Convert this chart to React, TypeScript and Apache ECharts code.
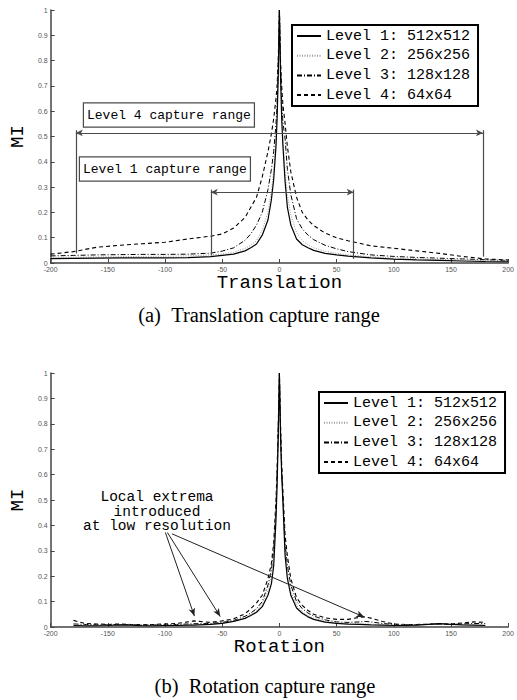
import React, { useEffect, useRef } from 'react';
import * as echarts from 'echarts';

const levelNames = ['Level 1: 512x512', 'Level 2: 256x256', 'Level 3: 128x128', 'Level 4: 64x64'];

// Translation (a)
const transX = [-200, -180, -160, -140, -120, -100, -80, -60, -50, -40, -30, -25, -20, -15, -10, -7, -5, -3, -2, -1,
  0, 1, 2, 3, 5, 7, 10, 15, 20, 25, 30, 40, 50, 60, 80, 100, 120, 140, 160, 180, 200];
const transL1 = [0.017, 0.018, 0.019, 0.02, 0.02, 0.02, 0.021, 0.025, 0.03, 0.035, 0.048, 0.06, 0.075, 0.11, 0.17, 0.25, 0.33, 0.46, 0.57, 0.74,
  1, 0.74, 0.57, 0.47, 0.32, 0.22, 0.15, 0.095, 0.072, 0.06, 0.05, 0.038, 0.032, 0.027, 0.02, 0.015, 0.012, 0.01, 0.008, 0.006, 0.005];
const transL2 = [0.022, 0.023, 0.024, 0.025, 0.026, 0.027, 0.028, 0.032, 0.036, 0.042, 0.058, 0.07, 0.088, 0.13, 0.2, 0.28, 0.37, 0.5, 0.6, 0.77,
  1, 0.77, 0.6, 0.5, 0.36, 0.27, 0.19, 0.12, 0.088, 0.072, 0.06, 0.046, 0.038, 0.032, 0.025, 0.02, 0.017, 0.014, 0.012, 0.01, 0.008];
const transL3 = [0.028, 0.03, 0.032, 0.033, 0.034, 0.034, 0.035, 0.039, 0.047, 0.06, 0.09, 0.115, 0.15, 0.2, 0.29, 0.37, 0.44, 0.55, 0.63, 0.78,
  1, 0.78, 0.64, 0.56, 0.49, 0.37, 0.27, 0.175, 0.135, 0.11, 0.092, 0.07, 0.056, 0.045, 0.032, 0.026, 0.022, 0.019, 0.016, 0.013, 0.01];
const transL4 = [0.035, 0.045, 0.062, 0.07, 0.076, 0.082, 0.095, 0.106, 0.115, 0.138, 0.18, 0.22, 0.26, 0.34, 0.44, 0.51, 0.57, 0.65, 0.7, 0.8,
  1, 0.8, 0.7, 0.63, 0.55, 0.46, 0.36, 0.26, 0.2, 0.17, 0.148, 0.118, 0.1, 0.088, 0.068, 0.058, 0.048, 0.038, 0.026, 0.016, 0.012];

// Rotation (b)
const rotX = [-180, -170, -160, -150, -140, -130, -120, -110, -100, -90, -80, -75, -70, -60, -50, -40, -30, -25, -20, -15, -10, -7, -5, -3, -2, -1,
  0, 1, 2, 3, 5, 7, 10, 15, 20, 25, 30, 40, 50, 60, 70, 75, 80, 90, 100, 110, 120, 130, 140, 150, 160, 170, 180];
const rotL1 = [0.006, 0.005, 0.005, 0.006, 0.008, 0.007, 0.005, 0.005, 0.006, 0.006, 0.007, 0.007, 0.008, 0.01, 0.014, 0.022, 0.034, 0.045, 0.058, 0.08, 0.125, 0.17, 0.24, 0.42, 0.56, 0.75,
  1, 0.75, 0.6, 0.5, 0.28, 0.19, 0.125, 0.075, 0.054, 0.04, 0.03, 0.019, 0.014, 0.011, 0.01, 0.009, 0.008, 0.007, 0.006, 0.006, 0.007, 0.01, 0.013, 0.01, 0.008, 0.007, 0.006];
const rotL2 = [0.009, 0.008, 0.007, 0.007, 0.009, 0.008, 0.007, 0.007, 0.008, 0.008, 0.009, 0.01, 0.01, 0.012, 0.016, 0.024, 0.038, 0.05, 0.064, 0.09, 0.145, 0.2, 0.27, 0.45, 0.58, 0.77,
  1, 0.77, 0.61, 0.51, 0.3, 0.21, 0.14, 0.085, 0.06, 0.045, 0.035, 0.023, 0.017, 0.014, 0.013, 0.012, 0.011, 0.009, 0.008, 0.008, 0.008, 0.01, 0.012, 0.01, 0.009, 0.008, 0.008];
const rotL3 = [0.012, 0.01, 0.009, 0.009, 0.01, 0.009, 0.008, 0.008, 0.009, 0.01, 0.012, 0.013, 0.013, 0.014, 0.018, 0.026, 0.042, 0.055, 0.072, 0.1, 0.165, 0.225, 0.3, 0.47, 0.6, 0.78,
  1, 0.78, 0.62, 0.52, 0.33, 0.24, 0.165, 0.1, 0.072, 0.055, 0.043, 0.028, 0.02, 0.018, 0.02, 0.022, 0.02, 0.014, 0.01, 0.009, 0.009, 0.01, 0.012, 0.01, 0.012, 0.014, 0.013];
const rotL4 = [0.026, 0.014, 0.012, 0.01, 0.012, 0.01, 0.009, 0.01, 0.012, 0.014, 0.02, 0.024, 0.022, 0.018, 0.024, 0.032, 0.052, 0.072, 0.095, 0.125, 0.19, 0.25, 0.33, 0.5, 0.62, 0.8,
  1, 0.8, 0.64, 0.54, 0.36, 0.28, 0.19, 0.115, 0.085, 0.065, 0.05, 0.036, 0.03, 0.03, 0.038, 0.04, 0.035, 0.022, 0.012, 0.01, 0.01, 0.011, 0.012, 0.012, 0.016, 0.02, 0.018];

// Capture range annotations [x1, y1, x2, y2]
const level4Arrow = [-178, 0.514, 178, 0.514];
const level4Verticals = [[-178, 0.525, -178, 0.038], [178, 0.525, 178, 0.025]];
const level1Arrow = [-60, 0.28, 65, 0.28];
const level1Verticals = [[-60, 0.29, -60, 0.03], [65, 0.29, 65, 0.016]];

// Local extrema pointers (from -> to)
const extremaFrom = [[-99.7, 0.372], [-97.9, 0.372], [-94, 0.367]];
const extremaTo = [[-74.3, 0.043], [-51.7, 0.041], [74.2, 0.039]];
const extremaLabel = ['Local extrema', 'introduced', 'at low resolution'];

const styles = [
  { color: '#000', width: 1.2, type: 'solid' as any },
  { color: '#9a9a9a', width: 1, type: [1, 1.5] as any },
  { color: '#000', width: 1, type: [5, 2, 1, 2] as any },
  { color: '#000', width: 1.1, type: [4, 3] as any },
];

const zip = (xs: number[], ys: number[]) => {
  const n = Math.min(xs.length, ys.length);
  const out: number[][] = [];
  for (let i = 0; i < n; i++) out.push([xs[i], ys[i]]);
  return out;
};

const annoColor = '#4a4a4a';

function lineSeg(a: number[], arrows: boolean) {
  return [
    { coord: [a[0], a[1]], symbol: arrows ? 'arrow' : 'none', symbolSize: [5, 7] },
    { coord: [a[2], a[3]], symbol: arrows ? 'arrow' : 'none', symbolSize: [5, 7] },
  ];
}

export default function App() {
  const ref = useRef<HTMLDivElement>(null);
  useEffect(() => {
    if (!ref.current) return;
    const chart = echarts.init(ref.current, null, { renderer: 'svg' });
    const tickLabel = { fontSize: 7, color: '#555', fontFamily: 'Liberation Sans', margin: 3 };
    const axisLine = { show: true, onZero: false, lineStyle: { color: '#444', width: 1.5 } };
    const axisTick = { show: true, inside: true, length: 4, lineStyle: { color: '#444', width: 1 } };
    const mkX = (idx: number, name: string) => ({
      type: 'value', gridIndex: idx, min: -200, max: 200, interval: 50,
      name, nameLocation: 'middle', nameGap: 5,
      nameTextStyle: { fontFamily: 'Liberation Mono', fontSize: 19, color: '#000', verticalAlign: 'top' },
      axisLine, axisTick, axisLabel: tickLabel, splitLine: { show: false },
    });
    const mkY = (idx: number) => ({
      type: 'value', gridIndex: idx, min: 0, max: 1, interval: 0.1,
      name: 'MI', nameLocation: 'middle', nameGap: 12,
      nameTextStyle: { fontFamily: 'Liberation Mono', fontSize: 19, color: '#000' },
      axisLine, axisTick, axisLabel: tickLabel, splitLine: { show: false },
    });
    const transData = [transL1, transL2, transL3, transL4];
    const rotData = [rotL1, rotL2, rotL3, rotL4];
    const series: any[] = [];
    levelNames.forEach((name, i) => {
      series.push({
        type: 'line', name, xAxisIndex: 0, yAxisIndex: 0, data: zip(transX, transData[i]),
        symbol: 'none', showSymbol: false, lineStyle: styles[i], itemStyle: { color: styles[i].color },
        z: 4 - i,
        markLine: i === 0 ? {
          silent: true, animation: false,
          label: { show: false },
          lineStyle: { color: annoColor, width: 1.2, type: 'solid' },
          data: [
            lineSeg(level4Arrow, true),
            lineSeg(level1Arrow, true),
            ...level4Verticals.map((v) => lineSeg(v, false)),
            ...level1Verticals.map((v) => lineSeg(v, false)),
          ],
        } : undefined,
      });
    });
    levelNames.forEach((name, i) => {
      series.push({
        type: 'line', name, xAxisIndex: 1, yAxisIndex: 1, data: zip(rotX, rotData[i]),
        symbol: 'none', showSymbol: false, lineStyle: styles[i], itemStyle: { color: styles[i].color },
        z: 4 - i,
        markLine: i === 0 ? {
          silent: true, animation: false,
          label: { show: false },
          lineStyle: { color: '#222', width: 1, type: 'solid' },
          data: extremaFrom.map((f, k) => [
            { coord: f, symbol: 'none' },
            { coord: extremaTo[k], symbol: 'arrow', symbolSize: [5, 8] },
          ]),
        } : undefined,
      });
    });
    const legendBase = {
      orient: 'vertical', data: levelNames, itemWidth: 24, itemHeight: 14, itemGap: 4.7,
      padding: [3.5, 8, 3.5, 4], borderColor: '#000', borderWidth: 2, borderRadius: 0,
      backgroundColor: '#fff', textStyle: { fontFamily: 'Liberation Mono', fontSize: 15, color: '#000' },
      itemStyle: { opacity: 0 }, selectedMode: false,
    };
    const boxText = (text: string, x: number, y: number) => ({
      type: 'text', x, y, z: 10,
      style: {
        text, font: '13px "Liberation Mono"', fill: '#000', backgroundColor: '#fff',
        borderColor: annoColor, borderWidth: 1.2, padding: [5, 3, 5, 3],
      },
    });
    chart.setOption({
      animation: false,
      backgroundColor: '#fff',
      grid: [
        { left: 40, top: 10, width: 472, height: 253 },
        { left: 40, top: 373, width: 472, height: 254 },
      ],
      xAxis: [mkX(0, 'Translation'), mkX(1, 'Rotation')],
      yAxis: [mkY(0), mkY(1)],
      legend: [
        { ...legendBase, left: 292, top: 25 },
        { ...legendBase, left: 319, top: 392 },
      ],
      series,
      graphic: [
        boxText('Level 4 capture range', 84, 103.5),
        boxText('Level 1 capture range', 80, 157.5),
        ...extremaLabel.map((t, k) => ({
          type: 'text', x: 157, y: 497 + k * 14.5, z: 10,
          style: {
            text: t, font: '14.5px "Liberation Mono"',
            fill: '#000', textAlign: 'center', textVerticalAlign: 'middle',
          },
        })),
        {
          type: 'text', x: 259, y: 315,
          style: { text: '(a)\u00a0\u00a0Translation capture range', font: '20.5px "Liberation Serif"', fill: '#000', textAlign: 'center', textVerticalAlign: 'middle' },
        },
        {
          type: 'text', x: 265, y: 686,
          style: { text: '(b)\u00a0\u00a0Rotation capture range', font: '20.5px "Liberation Serif"', fill: '#000', textAlign: 'center', textVerticalAlign: 'middle' },
        },
      ],
    });
    return () => chart.dispose();
  }, []);
  return <div ref={ref} style={{ position: 'absolute', left: 0, top: 0, width: 517, height: 700 }} />;
}
